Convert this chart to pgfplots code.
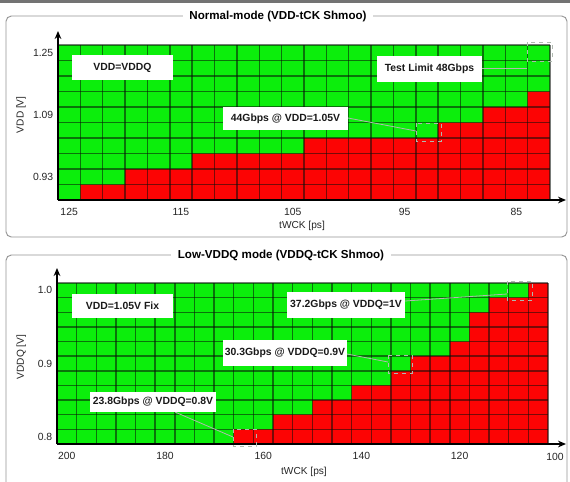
\documentclass[border=0pt]{standalone}
\usepackage{pgfplots}
\pgfplotsset{compat=1.18}
\usepackage{pgfplotstable}
\usepackage{fontspec}
\setmainfont{Liberation Sans}
\usetikzlibrary{arrows.meta}
\definecolor{passgreen}{RGB}{12,238,12}
\definecolor{failred}{RGB}{252,4,4}
\definecolor{gridc}{RGB}{10,15,10}
\definecolor{framec}{RGB}{150,150,150}
\definecolor{leadc}{RGB}{175,185,175}

% highest failing voltage per tWCK (cells above pass)
\pgfplotstableread{
twck vfail
123 0.89
121 0.89
119 0.93
117 0.93
115 0.93
113 0.97
111 0.97
109 0.97
107 0.97
105 0.97
103 1.01
101 1.01
99 1.01
97 1.01
95 1.01
93 1.01
91 1.05
89 1.05
87 1.09
85 1.09
83 1.13
}\normaltab

\pgfplotstableread{
twck vfail
164 0.80
160 0.80
156 0.82
152 0.82
148 0.84
144 0.84
140 0.86
136 0.86
132 0.88
128 0.90
124 0.90
120 0.92
116 0.96
112 0.98
108 0.98
104 1.00
}\lowtab

\pgfplotsset{
  shmoo/.style={
    scale only axis, x dir=reverse, clip=true,
    axis line style={draw=none},
    axis background/.style={fill=passgreen},
    axis on top,
    major tick length=0pt, minor tick length=0pt,
    tick label style={font=\fontsize{7.8}{8}\selectfont, text=black!85},
    label style={font=\fontsize{7.6}{8}\selectfont, text=black!85},
    xticklabel style={yshift=-3pt},
    extra x tick style={grid=major},
    extra y tick style={grid=major},
    extra x tick labels={}, extra y tick labels={},
    grid style={draw=gridc, draw opacity=0.55, line width=1.1pt},
  },
}
\tikzset{annot/.style={fill=white, inner sep=0pt, font=\bfseries\fontsize{7.8}{9}\selectfont, text=black!90}}

\begin{document}
\begin{tikzpicture}
\begin{scope}[x=0.75pt, y=-0.75pt]
\path[use as bounding box] (0,0) rectangle (570,477);
\fill[white] (0,0) rectangle (570,477);
\fill[black!55] (0,0) rectangle (570,2.7);
\draw[framec, line width=0.7pt, rounded corners=4pt] (6,16) rectangle (567,237);
\draw[framec, line width=0.7pt, rounded corners=4pt] (6,255) rectangle (567,500);
\end{scope}

% ---------------- Normal mode ----------------
\begin{axis}[shmoo, name=top,
  at={(43.5pt,-150pt)}, anchor=south west,
  width=369pt, height=116.25pt,
  xmin=82, xmax=126, ymin=0.87, ymax=1.27,
  xtick={125,115,105,95,85}, xticklabels={125,115,105,95,85},
  ytick={0.93,1.09,1.25}, yticklabels={0.93,1.09,1.25},
  extra x ticks={82,84,...,126},
  extra y ticks={0.87,0.91,0.95,0.99,1.03,1.07,1.11,1.15,1.19,1.23,1.27},
  xlabel={tWCK [ps]}, ylabel={VDD [V]},
  xlabel style={at={(axis description cs:0.496,-0.165)}, anchor=center},
  ylabel style={at={(axis description cs:-0.075,0.55)}, anchor=center},
]
\addplot[ybar, bar width=2, fill=failred, draw=none]
  table[x=twck, y expr=\thisrow{vfail}+0.02] {\normaltab};
\end{axis}

% ---------------- Low-VDDQ mode ----------------
\begin{axis}[shmoo, name=bot,
  at={(42.75pt,-333pt)}, anchor=south west,
  width=368.25pt, height=120.75pt,
  xmin=102, xmax=202, ymin=0.79, ymax=1.01,
  xtick={200,180,160,140,120}, xticklabels={200,180,160,140,120},
  ytick={0.8,0.9,1.0}, yticklabels={0.8,0.9,1.0},
  extra x ticks={102,106,...,202},
  extra y ticks={0.79,0.81,0.83,0.85,0.87,0.89,0.91,0.93,0.95,0.97,0.99,1.01},
  xlabel={tWCK [ps]}, ylabel={VDDQ [V]},
  xlabel style={at={(axis description cs:0.503,-0.174)}, anchor=center},
  ylabel style={at={(axis description cs:-0.073,0.54)}, anchor=center},
]
\addplot[ybar, bar width=4, fill=failred, draw=none]
  table[x=twck, y expr=\thisrow{vfail}+0.01] {\lowtab};
\end{axis}

\begin{scope}[x=0.75pt, y=-0.75pt]
% axis arrows
\draw[line width=1.4pt, -{Stealth[length=6pt,width=5pt]}] (58,200) -- (566,200);
\draw[line width=1.4pt, -{Stealth[length=6pt,width=5pt]}] (58,200) -- (58,31);
\draw[line width=1.4pt, -{Stealth[length=6pt,width=5pt]}] (57,444) -- (566,444);
\draw[line width=1.4pt, -{Stealth[length=6pt,width=5pt]}] (57,444) -- (57,268);
\node[font=\fontsize{7.8}{8}\selectfont, text=black!85] at (555,457) {100};
% titles
\node[fill=white, inner xsep=5pt, font=\bfseries\fontsize{8.7}{10}\selectfont] at (278,16) {Normal-mode (VDD-tCK Shmoo)};
\node[fill=white, inner xsep=5pt, font=\bfseries\fontsize{8.7}{10}\selectfont] at (281,255) {Low-VDDQ mode (VDDQ-tCK Shmoo)};
% leaders top
\draw[leadc, line width=0.6pt] (348,118) -- (416,131);
\draw[leadc, line width=0.6pt, dashed] (416,123) rectangle (441,141);
\draw[leadc, line width=0.6pt] (482,68) -- (527,68);
\draw[leadc, line width=0.5pt, dashed] (527,42) rectangle (552,61);
% leaders bottom
\draw[leadc, line width=0.6pt] (175,412) -- (233,437);
\draw[leadc, line width=0.6pt, dashed] (233,429) rectangle (256,446);
\draw[leadc, line width=0.6pt] (347,354) -- (388,362);
\draw[leadc, line width=0.6pt, dashed] (388,355) rectangle (412,373);
\draw[leadc, line width=0.6pt] (405,301) -- (507,294);
\draw[leadc, line width=0.6pt, dashed] (507,281) rectangle (532,300);
% annotation boxes
\node[annot, minimum width=75.75pt, minimum height=18.75pt] at (122.5,67.5) {VDD=VDDQ};
\node[annot, minimum width=78.75pt, minimum height=19.5pt] at (429.5,69) {Test Limit 48Gbps};
\node[annot, minimum width=93.75pt, minimum height=17.25pt] at (285.5,118.5) {44Gbps @ VDD=1.05V};
\node[annot, minimum width=75.75pt, minimum height=18pt] at (122.5,306) {VDD=1.05V Fix};
\node[annot, minimum width=88.5pt, minimum height=19.5pt] at (346,305) {37.2Gbps @ VDDQ=1V};
\node[annot, minimum width=93pt, minimum height=19.5pt] at (285,353) {30.3Gbps @ VDDQ=0.9V};
\node[annot, minimum width=94.5pt, minimum height=15pt] at (153,401.5) {23.8Gbps @ VDDQ=0.8V};
\end{scope}
\end{tikzpicture}
\end{document}
